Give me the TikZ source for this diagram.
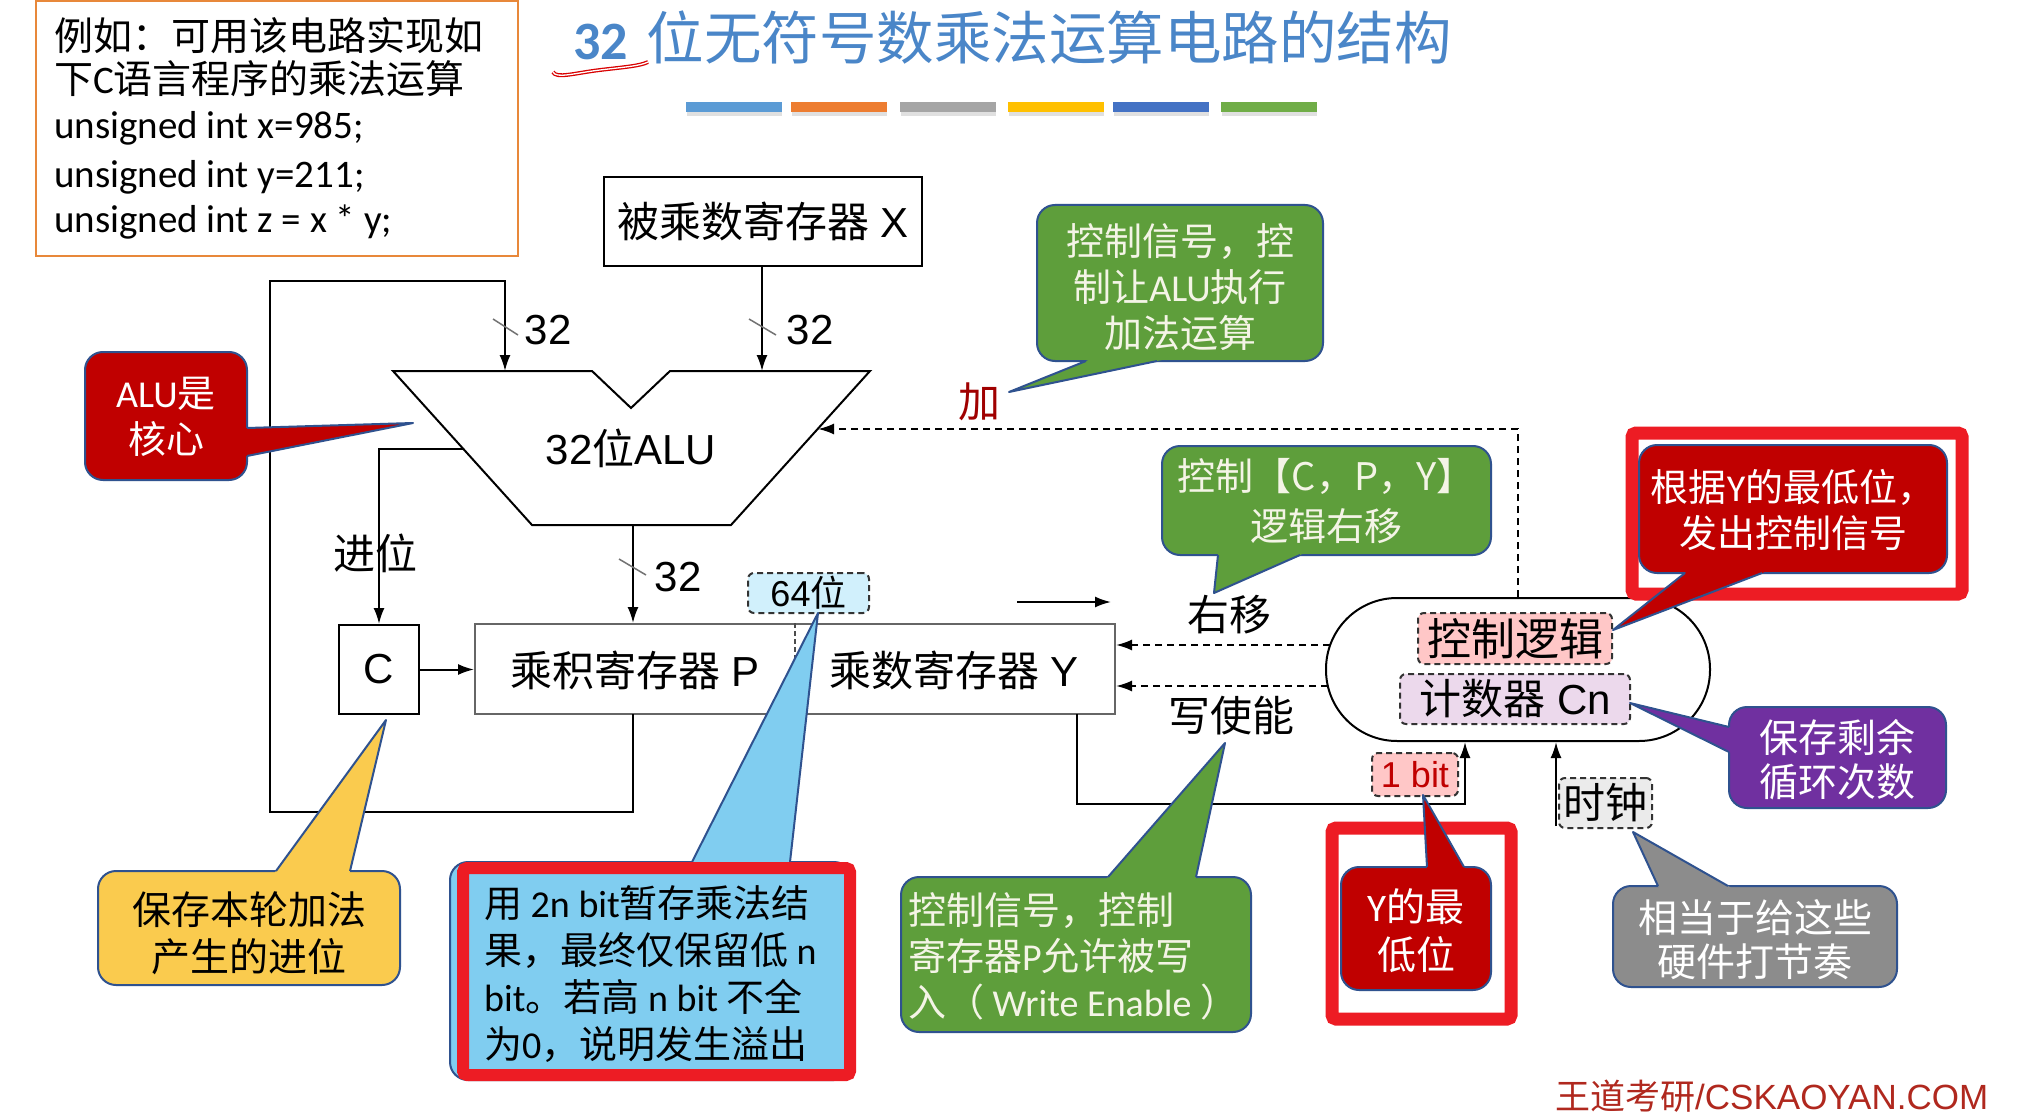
\documentclass[tikz,border=0pt]{standalone}
\usepackage{fontspec}
\setmainfont{Liberation Sans}
\newfontfamily\cjk{Noto Sans CJK SC}
\newfontfamily\calfont{Carlito}
\usetikzlibrary{arrows.meta,calc}
\newcommand\zh[1]{{\cjk #1}}
\newcommand\la[1]{{\calfont #1}}
\definecolor{cborder}{HTML}{2F528F}
\definecolor{cgreen}{HTML}{5E9E3B}
\definecolor{cred}{HTML}{C00000}
\definecolor{cpurple}{HTML}{7030A0}
\definecolor{cgray}{HTML}{8C8C8C}
\definecolor{cyellow}{HTML}{FACB4E}
\definecolor{cblue}{HTML}{80CDF0}
\definecolor{hframe}{HTML}{ED1C24}
\definecolor{titleblue}{HTML}{4A86C8}
\definecolor{lighttext}{HTML}{F4F4E6}
\definecolor{orangeb}{HTML}{E8883A}
\definecolor{jiared}{HTML}{A00000}
\definecolor{footred}{HTML}{B0281E}
\newcommand\callout[6]{%
  \path[fill=#1, draw=cborder, line width=2pt, rounded corners=18pt] (#2) rectangle (#3);
  \fill[#1] ($(#4)!-6pt!(#6)$) -- (#6) -- ($(#5)!-6pt!(#6)$) -- cycle;
  \draw[cborder, line width=2pt, line join=round] (#4) -- (#6) -- (#5);
}
\tikzset{
  reg/.style={draw=black, line width=2pt, fill=white, inner sep=0pt},
  lbl/.style={font=\fontsize{42}{48}\selectfont, inner sep=0pt},
  arr/.style={draw=black, line width=2pt, -{Latex[length=16pt,width=11pt]}},
  plain/.style={draw=black, line width=2pt},
  dasharr/.style={arr, dash pattern=on 7pt off 5pt},
  slashln/.style={draw=black!55, line width=1.5pt},
  dbox/.style={draw=black!80, line width=2pt, dash pattern=on 6pt off 4pt, rounded corners=6pt, inner sep=0pt},
  ctext/.style={align=center, font=\cjk\fontsize{38}{46}\selectfont, inner sep=0pt},
  hframebox/.style={draw=hframe, line width=13pt, rounded corners=4pt},
}
\begin{document}
\begin{tikzpicture}[x=1pt,y=-1pt]
\useasboundingbox (0,0) rectangle (2031,1115);
\fill[white] (0,0) rectangle (2031,1115);

% example box
\draw[orangeb, line width=2.5pt, fill=white] (36,1) rectangle (518,256);
\node[anchor=west, inner sep=0pt, font=\cjk\fontsize{39}{44}\selectfont] (ex1) at (54,36) {例如：可用该电路实现如};
\node[anchor=west, inner sep=0pt, font=\cjk\fontsize{39}{44}\selectfont] (ex2) at (54,79) {下\la{C}语言程序的乘法运算};
\node[anchor=west, inner sep=0pt, font=\calfont\fontsize{39}{44}\selectfont] (ex3) at (54,128) {unsigned int x=985;};
\node[anchor=west, inner sep=0pt, font=\calfont\fontsize{39}{44}\selectfont] (ex4) at (54,177) {unsigned int y=211;};
\node[anchor=west, inner sep=0pt, font=\calfont\fontsize{39}{44}\selectfont] (ex5) at (54,222) {unsigned int z = x * y;};

% title
\node[anchor=base west, inner sep=0pt, text=titleblue] (title) at (573,60)
  {{\calfont\bfseries\fontsize{54}{60}\selectfont 32}\hspace{19pt}{\cjk\fontsize{57.5}{60}\selectfont 位无符号数乘法运算电路的结构}};
\draw[draw=red!85!black, line width=1.3pt, double=white, double distance=1.3pt]
  (553,72) .. controls (556,79) and (575,73) .. (600,70) .. controls (625,67) and (640,66) .. (648,62);

% colour bars
\foreach \xa/\col in {686/5B9BD5, 791/ED7D31, 900/A5A5A5, 1008/FFC000, 1113/4472C4, 1221/70AD47}{
  \fill[black!12] (\xa+1,112) rectangle (\xa+96,116);
  \definecolor{barc}{HTML}{\col}
  \fill[barc] (\xa,102) rectangle (\xa+96,112);
}

% registers
\node[reg, minimum width=318pt, minimum height=89pt, lbl] (X) at (763,221.5) {\zh{被乘数寄存器} X};
\node[reg, minimum width=80pt, minimum height=89pt, lbl] (C) at (379,669.5) {C};
\node[reg, draw=black!60, minimum width=640pt, minimum height=90pt] (PY) at (795,669) {};
\draw[draw=black!70, line width=1.5pt, dash pattern=on 5pt off 3pt] (PY.north) -- (PY.south);
\node[lbl] (P) at (635,670) {\zh{乘积寄存器} P};
\node[lbl] (Y) at (954,670) {\zh{乘数寄存器} Y};

% ALU
\draw[line width=2pt, fill=white] (393,371) -- (592,371) -- (631,408) -- (670,371) -- (870,371) -- (731,525) -- (532,525) -- cycle;
\node[lbl] (alu) at (631,448) {32\zh{位}ALU};
\coordinate (aluL) at (505,371);
\coordinate (aluR) at (762,371);
\coordinate (aluB) at (633,525);
\coordinate (aluC) at (463,449);
\coordinate (aluA) at (818,429);

% control unit
\node[draw=black, line width=2pt, minimum width=384pt, minimum height=143pt, rounded corners=71pt] (ctrl) at (1518,669.5) {};
\node[dbox, fill=red!22, minimum width=194pt, minimum height=51pt, lbl, font=\cjk\fontsize{44}{48}\selectfont] (logic) at (1515,638.5) {控制逻辑};
\node[dbox, fill=violet!15, minimum width=230pt, minimum height=50pt, lbl] (cnt) at (1515,699) {\zh{计数器} Cn};

% connectors
\draw[arr] (X.south -| aluR) -- (aluR);
\coordinate (pout) at (633,714);
\coordinate (lp1) at (633,812);
\coordinate (lp2) at (270,812);
\coordinate (lp3) at (270,281);
\draw[arr] (pout) -- (lp1) -- (lp2) -- (lp3) -| (aluL);
\draw[arr] (aluB) -- (PY.north -| aluB);
\draw[arr] (aluC) -| (C.north);
\draw[arr] (C.east) -- (PY.west |- C.east);
\draw[dasharr] (ctrl.north) |- (aluA);
\coordinate (sh1) at (1330,645);
\coordinate (we1) at (1328,686);
\draw[dasharr] (sh1) -- (PY.east |- sh1);
\draw[dasharr] (we1) -- (PY.east |- we1);
\coordinate (rs1) at (1017,602);
\coordinate (rs2) at (1111,602);
\draw[arr] (rs1) -- (rs2);
\coordinate (yout) at (1077,714);
\coordinate (ycorner) at (1465,804);
\draw[arr] (yout) |- (ycorner) -- (ctrl.south -| ycorner);
\coordinate (clk) at (1556,826);
\draw[arr] (clk) -- (ctrl.south -| clk);

% bus slashes and labels
\draw[slashln] (493,319) -- (518,335);
\draw[slashln] (749,319) -- (776,335);
\draw[slashln] (619,559) -- (646,575);
\node[lbl] (n32a) at (548,330) {32};
\node[lbl] (n32b) at (810,330) {32};
\node[lbl] (n32c) at (678,577) {32};
\node[lbl] (carry) at (375,553) {\zh{进位}};
\node[lbl] (shiftl) at (1229,615) {\zh{右移}};
\node[lbl] (wel) at (1231,716) {\zh{写使能}};
\node[lbl, text=jiared] (jia) at (979,402) {\zh{加}};
\node[dbox, fill=cyan!18, minimum width=121pt, minimum height=40pt, font=\fontsize{36}{40}\selectfont] (b64) at (808.5,593) {64\zh{位}};
\node[dbox, fill=red!22, minimum width=86pt, minimum height=43pt, text=cred, font=\fontsize{36}{40}\selectfont] (bit1) at (1415,774.5) {1 bit};
\node[dbox, fill=black!8, minimum width=93pt, minimum height=50pt, lbl] (clock) at (1605.5,803) {\zh{时钟}};

% callouts
\callout{cred}{85,352}{247,480}{247,428}{247,456}{413,423}
\node[ctext, text=white] (t1) at (166,417) {\la{ALU}是\\核心};

\callout{cgreen}{1037,205}{1323,361}{1086,361}{1157,361}{1009,392}
\node[ctext, text=lighttext] (t2) at (1180,287) {控制信号，控\\制让\la{ALU}执行\\加法运算};

\callout{cgreen}{1162,446}{1491,555}{1218,555}{1300,555}{1214,593}
\node[ctext, text=lighttext, font=\cjk\fontsize{38}{50}\selectfont] (t3) at (1326,501) {控制【C，P，Y】\\逻辑右移};

\draw[hframebox] (1632,433) rectangle (1962,594);
\callout{cred}{1639,445}{1947,573}{1685,573}{1762,573}{1613,630}
\node[ctext, text=white] (t4) at (1793,510) {根据\la{Y}的最低位，\\发出控制信号};

\callout{cpurple}{1729,707}{1946,808}{1729,727}{1729,752}{1630,703}
\node[ctext, text=white, font=\cjk\fontsize{39}{44}\selectfont] (t5) at (1837,760) {保存剩余\\循环次数};

\callout{cgray}{1613,886}{1897,987}{1658,886}{1728,886}{1633,832}
\node[ctext, text=white, font=\cjk\fontsize{39}{44}\selectfont] (t6) at (1755,940) {相当于给这些\\硬件打节奏};

\draw[hframebox] (1332,828) rectangle (1511,1019);
\callout{cred}{1341,867}{1491,990}{1427,867}{1464,867}{1423,795}
\node[ctext, text=white, font=\cjk\fontsize{39}{48}\selectfont] (t7) at (1416,931) {\la{Y}的最\\低位};

\callout{cgreen}{901,877}{1251,1032}{1108,877}{1196,877}{1225,743}
\node[ctext, text=lighttext, align=left, anchor=west] (t8) at (908,956) {控制信号，控制\\寄存器\la{P}允许被写\\入（ \la{Write Enable} ）};

\callout{cyellow}{98,871}{400,985}{276,871}{350,871}{386,720}
\node[ctext, text=black, font=\cjk\fontsize{39}{47}\selectfont] (t9) at (249,933) {保存本轮加法\\产生的进位};

\callout{cblue}{450,862}{852,1080}{692,862}{790,862}{818,613}
\draw[hframebox, line width=12pt] (463,868) rectangle (850,1075);
\node[ctext, text=black, align=left, anchor=west, font=\cjk\fontsize{38}{47.3}\selectfont] (t10) at (484,974)
  {用 \la{2n bit}暂存乘法结\\果，最终仅保留低 \la{n}\\\la{bit}。若高 \la{n bit} 不全\\为\la{0}，说明发生溢出};

% footer
\node[anchor=base west, inner sep=0pt, text=footred, font=\fontsize{35}{40}\selectfont] (foot) at (1555,1109) {\zh{王道考研}/CSKAOYAN.COM};
\end{tikzpicture}
\end{document}
